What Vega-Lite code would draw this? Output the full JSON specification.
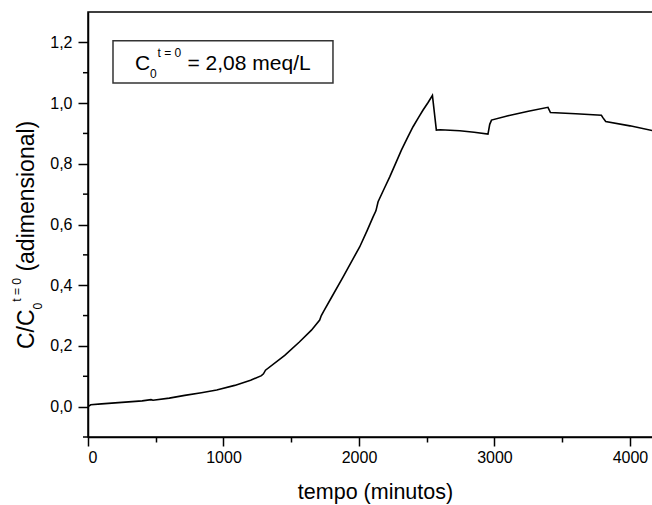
{
  "$schema": "https://vega.github.io/schema/vega-lite/v6.json",
  "autosize": {"type": "none"},
  "padding": {"left": 88, "top": 12, "right": 0, "bottom": 68},
  "width": 565,
  "height": 425,
  "background": "white",
  "config": {
    "view": {"stroke": "black", "strokeWidth": 1.5},
    "font": "Liberation Sans",
    "axis": {
      "domainColor": "black", "domainWidth": 1.5, "tickColor": "black", "tickWidth": 1.5,
      "grid": false, "labelFont": "Liberation Sans", "labelFontSize": 16, "labelColor": "black",
      "titleFont": "Liberation Sans", "titleFontSize": 21.5, "titleFontWeight": "normal", "titleColor": "black",
      "labelOverlap": false
    }
  },
  "datasets": {
    "curve": [
      {"t": 0, "c": 0.0}, {"t": 20, "c": 0.006}, {"t": 100, "c": 0.009}, {"t": 250, "c": 0.014},
      {"t": 400, "c": 0.019}, {"t": 465, "c": 0.023}, {"t": 480, "c": 0.021}, {"t": 600, "c": 0.028},
      {"t": 714, "c": 0.037}, {"t": 837, "c": 0.046}, {"t": 950, "c": 0.055}, {"t": 1083, "c": 0.07},
      {"t": 1200, "c": 0.087}, {"t": 1280, "c": 0.102}, {"t": 1295, "c": 0.108}, {"t": 1310, "c": 0.12},
      {"t": 1452, "c": 0.169}, {"t": 1560, "c": 0.213}, {"t": 1649, "c": 0.252}, {"t": 1710, "c": 0.285},
      {"t": 1722, "c": 0.3}, {"t": 1740, "c": 0.315}, {"t": 1800, "c": 0.362}, {"t": 1882, "c": 0.427},
      {"t": 1950, "c": 0.482}, {"t": 2005, "c": 0.526}, {"t": 2060, "c": 0.58}, {"t": 2104, "c": 0.625},
      {"t": 2125, "c": 0.645}, {"t": 2141, "c": 0.675}, {"t": 2190, "c": 0.722}, {"t": 2227, "c": 0.757},
      {"t": 2281, "c": 0.812}, {"t": 2313, "c": 0.845}, {"t": 2360, "c": 0.888}, {"t": 2399, "c": 0.922},
      {"t": 2440, "c": 0.953}, {"t": 2473, "c": 0.977}, {"t": 2510, "c": 1.002}, {"t": 2542, "c": 1.025},
      {"t": 2571, "c": 0.911}, {"t": 2600, "c": 0.912}, {"t": 2744, "c": 0.909}, {"t": 2850, "c": 0.904},
      {"t": 2952, "c": 0.898}, {"t": 2965, "c": 0.93}, {"t": 2978, "c": 0.944}, {"t": 3100, "c": 0.958},
      {"t": 3250, "c": 0.973}, {"t": 3395, "c": 0.986}, {"t": 3413, "c": 0.969}, {"t": 3600, "c": 0.965},
      {"t": 3789, "c": 0.96}, {"t": 3800, "c": 0.952}, {"t": 3821, "c": 0.939}, {"t": 4000, "c": 0.925},
      {"t": 4170, "c": 0.909}
    ],
    "minorY": [
      {"m": -0.1}, {"m": 0.1}, {"m": 0.3}, {"m": 0.5}, {"m": 0.7}, {"m": 0.9}, {"m": 1.1}
    ]
  },
  "layer": [
    {
      "data": {"name": "curve"},
      "mark": {"type": "line", "color": "black", "strokeWidth": 1.6, "clip": true},
      "encoding": {
        "x": {
          "field": "t", "type": "quantitative",
          "scale": {"domain": [0, 4170], "nice": false, "zero": false},
          "axis": {
            "title": "tempo (minutos)",
            "values": [0, 500, 1000, 1500, 2000, 2500, 3000, 3500, 4000],
            "format": "d",
            "labelExpr": "datum.value % 1000 === 0 ? datum.label : ''",
            "tickSize": {"condition": {"test": "datum.value % 1000 === 0", "value": 9}, "value": 5},
            "labelPadding": 3,
            "titleBaseline": "alphabetic",
            "titleAlign": "center",
            "titleX": 287,
            "titleY": 61
          }
        },
        "y": {
          "field": "c", "type": "quantitative",
          "scale": {"domain": [-0.1, 1.3], "nice": false, "zero": false},
          "axis": {
            "title": null,
            "values": [0, 0.2, 0.4, 0.6, 0.8, 1.0, 1.2],
            "format": ".1f",
            "labelExpr": "replace(datum.label, '.', ',')",
            "tickSize": 10,
            "labelPadding": 6
          }
        }
      }
    },
    {
      "data": {"name": "minorY"},
      "mark": {"type": "rule", "color": "black", "strokeWidth": 1.5, "clip": false},
      "encoding": {
        "y": {"field": "m", "type": "quantitative"},
        "x": {"datum": -37, "type": "quantitative"},
        "x2": {"datum": 0}
      }
    },
    {
      "data": {"values": [{}]},
      "mark": {"type": "rect", "fill": "white", "stroke": "#333", "strokeWidth": 1.5},
      "encoding": {
        "x": {"datum": 184.5, "type": "quantitative"},
        "x2": {"datum": 1808},
        "y": {"datum": 1.2055, "type": "quantitative"},
        "y2": {"datum": 1.066}
      }
    },
    {
      "data": {"values": [{}]},
      "mark": {"type": "text", "text": "C", "fontSize": 21, "align": "left", "baseline": "alphabetic", "color": "black"},
      "encoding": {
        "x": {"datum": 347, "type": "quantitative"},
        "y": {"datum": 1.109, "type": "quantitative"}
      }
    },
    {
      "data": {"values": [{}]},
      "mark": {"type": "text", "text": "0", "fontSize": 12, "align": "left", "baseline": "alphabetic", "color": "black"},
      "encoding": {
        "x": {"datum": 457.6, "type": "quantitative"},
        "y": {"datum": 1.083, "type": "quantitative"}
      }
    },
    {
      "data": {"values": [{}]},
      "mark": {"type": "text", "text": "t = 0", "fontSize": 12, "align": "left", "baseline": "alphabetic", "color": "black"},
      "encoding": {
        "x": {"datum": 513, "type": "quantitative"},
        "y": {"datum": 1.151, "type": "quantitative"}
      }
    },
    {
      "data": {"values": [{}]},
      "mark": {"type": "text", "text": "= 2,08 meq/L", "fontSize": 21, "align": "left", "baseline": "alphabetic", "color": "black"},
      "encoding": {
        "x": {"datum": 734.4, "type": "quantitative"},
        "y": {"datum": 1.109, "type": "quantitative"}
      }
    },
    {
      "data": {"values": [{}]},
      "mark": {"type": "text", "text": "C/C", "fontSize": 23, "angle": 270, "align": "left", "baseline": "alphabetic", "color": "black"},
      "encoding": {
        "x": {"datum": -402, "type": "quantitative"},
        "y": {"datum": 0.1899, "type": "quantitative"}
      }
    },
    {
      "data": {"values": [{}]},
      "mark": {"type": "text", "text": "0", "fontSize": 12, "angle": 270, "align": "left", "baseline": "alphabetic", "color": "black"},
      "encoding": {
        "x": {"datum": -343, "type": "quantitative"},
        "y": {"datum": 0.3203, "type": "quantitative"}
      }
    },
    {
      "data": {"values": [{}]},
      "mark": {"type": "text", "text": "t = 0", "fontSize": 12, "angle": 270, "align": "left", "baseline": "alphabetic", "color": "black"},
      "encoding": {
        "x": {"datum": -494.5, "type": "quantitative"},
        "y": {"datum": 0.3457, "type": "quantitative"}
      }
    },
    {
      "data": {"values": [{}]},
      "mark": {"type": "text", "text": "(adimensional)", "fontSize": 23, "angle": 270, "align": "left", "baseline": "alphabetic", "color": "black"},
      "encoding": {
        "x": {"datum": -402, "type": "quantitative"},
        "y": {"datum": 0.4448, "type": "quantitative"}
      }
    }
  ]
}
